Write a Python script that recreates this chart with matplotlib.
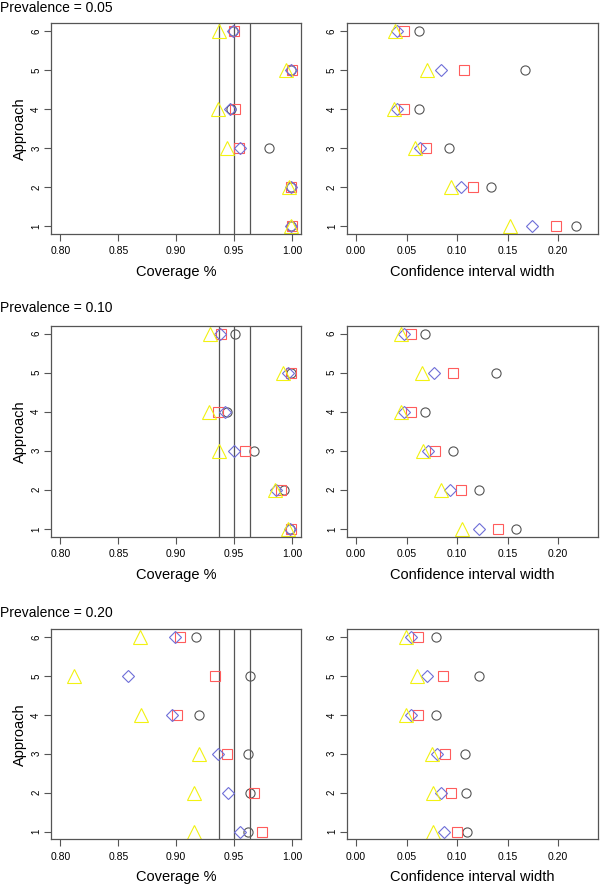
import matplotlib
matplotlib.use("Agg")
import matplotlib.pyplot as plt
import numpy as np

plt.rcParams['font.family'] = ['Liberation Sans', 'DejaVu Sans']

approach = [1, 2, 3, 4, 5, 6]
prevalences = ["0.05", "0.10", "0.20"]

# Coverage values (approach 1..6) per prevalence, for each of four methods
cov_circle = [
    [0.999, 0.999, 0.980, 0.947, 0.999, 0.949],
    [0.998, 0.993, 0.967, 0.944, 0.999, 0.951],
    [0.962, 0.964, 0.962, 0.920, 0.964, 0.917],
]
cov_square = [
    [1.000, 0.999, 0.954, 0.951, 1.000, 0.950],
    [0.999, 0.990, 0.959, 0.936, 0.999, 0.939],
    [0.974, 0.967, 0.944, 0.901, 0.933, 0.903],
]
cov_diamond = [
    [0.999, 0.999, 0.955, 0.946, 0.999, 0.949],
    [0.998, 0.986, 0.950, 0.942, 0.996, 0.938],
    [0.955, 0.945, 0.936, 0.896, 0.858, 0.899],
]
cov_triangle = [
    [0.999, 0.997, 0.944, 0.936, 0.995, 0.937],
    [0.996, 0.985, 0.937, 0.928, 0.992, 0.929],
    [0.915, 0.915, 0.920, 0.870, 0.812, 0.869],
]

# Confidence interval widths
ci_circle = [
    [0.2175, 0.1338, 0.0916, 0.0619, 0.1674, 0.0626],
    [0.1585, 0.1216, 0.0956, 0.0682, 0.1390, 0.0682],
    [0.1100, 0.1087, 0.1077, 0.0791, 0.1222, 0.0787],
]
ci_square = [
    [0.1984, 0.1153, 0.0695, 0.0471, 0.1068, 0.0478],
    [0.1410, 0.1041, 0.0778, 0.0540, 0.0956, 0.0540],
    [0.0998, 0.0936, 0.0876, 0.0610, 0.0860, 0.0610],
]
ci_diamond = [
    [0.1743, 0.1035, 0.0636, 0.0405, 0.0837, 0.0409],
    [0.1213, 0.0932, 0.0708, 0.0480, 0.0771, 0.0480],
    [0.0873, 0.0840, 0.0797, 0.0540, 0.0698, 0.0540],
]
ci_triangle = [
    [0.1522, 0.0936, 0.0583, 0.0376, 0.0702, 0.0385],
    [0.1051, 0.0837, 0.0666, 0.0445, 0.0656, 0.0445],
    [0.0761, 0.0758, 0.0755, 0.0494, 0.0603, 0.0494],
]

ref_lines = [0.9365, 0.95, 0.9635]
cov_ticks = [0.80, 0.85, 0.90, 0.95, 1.00]
ci_ticks = [0.00, 0.05, 0.10, 0.15, 0.20]

GRAY = "#555555"
RED = "#FF5C5C"
BLUE = "#6E6ED8"
YELLOW = "#F2F212"

fig = plt.figure(figsize=(6, 8.88), dpi=100)
W, H = 600.0, 888.0

rows_px = [(23, 234), (325.7, 536.7), (629.3, 839.3)]
title_y = [8, 308, 613]
left_x = (51, 301.5)
right_x = (346.7, 597.7)


def make_ax(xpx, ypx):
    x0, x1 = xpx
    t, b = ypx
    return fig.add_axes([x0 / W, 1 - b / H, (x1 - x0) / W, (b - t) / H])


def style(ax, xlim, xticks, xlabel, ylabel):
    ax.set_xlim(*xlim)
    ax.set_ylim(0.8, 6.2)
    ax.set_xticks(xticks)
    ax.set_xticklabels([f"{v:.2f}" for v in xticks], fontsize=7.5)
    ax.set_yticks(approach)
    ax.set_yticklabels([str(a) for a in approach], fontsize=7, rotation=90,
                       va='center')
    for s in ax.spines.values():
        s.set_color(GRAY)
        s.set_linewidth(0.9)
    ax.tick_params(axis='both', colors=GRAY, length=5, width=0.8,
                   labelcolor='black')
    ax.tick_params(axis='x', pad=4)
    ax.tick_params(axis='y', pad=2)
    ax.set_xlabel(xlabel, fontsize=10.5, labelpad=6)
    if ylabel:
        ax.set_ylabel(ylabel, fontsize=10.5, labelpad=3)


def draw_points(ax, c, s, d, t):
    kw = dict(linestyle='none', markerfacecolor='none', markeredgewidth=0.8)
    ax.plot(c, approach, marker='o', ms=6.6, markeredgecolor=GRAY, **kw)
    ax.plot(s, approach, marker='s', ms=6.5, markeredgecolor=RED, **kw)
    ax.plot(d, approach, marker='D', ms=6.3, markeredgecolor=BLUE, **kw)
    ax.plot(t, approach, marker='^', ms=9.5, markeredgecolor=YELLOW, **kw)


for i in range(3):
    axl = make_ax(left_x, rows_px[i])
    for v in ref_lines:
        axl.axvline(v, color=GRAY, lw=0.9, zorder=1)
    draw_points(axl, cov_circle[i], cov_square[i], cov_diamond[i], cov_triangle[i])
    style(axl, (0.792, 1.008), cov_ticks, "Coverage %", "Approach")

    axr = make_ax(right_x, rows_px[i])
    draw_points(axr, ci_circle[i], ci_square[i], ci_diamond[i], ci_triangle[i])
    style(axr, (-0.0092, 0.2392), ci_ticks, "Confidence interval width", None)

    fig.text(0.0, 1 - title_y[i] / H, f"Prevalence = {prevalences[i]}",
             fontsize=10, ha='left', va='center')

fig.savefig("out.png", dpi=100)
